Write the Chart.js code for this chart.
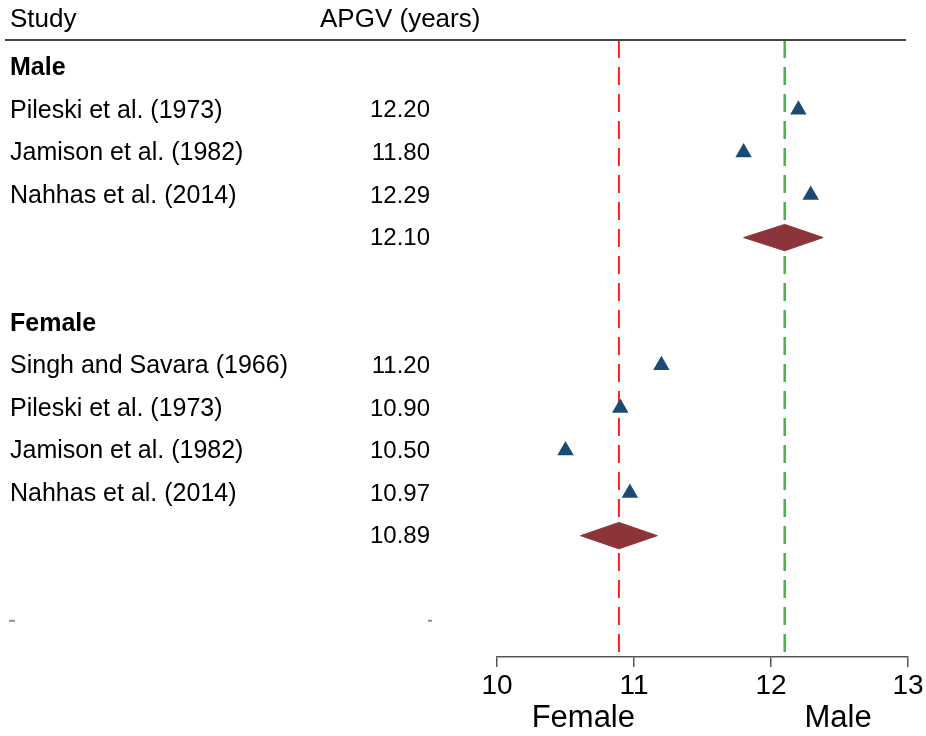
<!DOCTYPE html>
<html>
<head>
<meta charset="utf-8">
<script src="https://cdn.jsdelivr.net/npm/chart.js@4.4.0/dist/chart.umd.min.js"></script>
<style>
  body { margin: 0; background: #fff; }
  #wrap { width: 926px; height: 736px; position: relative; }
</style>
</head>
<body>
<div id="wrap"><canvas id="forest"></canvas></div>
<script>
// Data
const maleStudies = ['Pileski et al. (1973)', 'Jamison et al. (1982)', 'Nahhas et al. (2014)'];
const maleApgv = [12.20, 11.80, 12.29];
const malePooled = 12.10;
const maleCI = [11.80, 12.38];

const femaleStudies = ['Singh and Savara (1966)', 'Pileski et al. (1973)', 'Jamison et al. (1982)', 'Nahhas et al. (2014)'];
const femaleApgv = [11.20, 10.90, 10.50, 10.97];
const femalePooled = 10.89;
const femaleCI = [10.61, 11.17];

const xTicks = [10, 11, 12, 13];

// Row layout (row index on the y scale, 0 = top)
const maleHeaderRow = 0;
const maleRows = [1, 2, 3];
const malePooledRow = 4;
const femaleHeaderRow = 6;
const femaleRows = [7, 8, 9, 10];
const femalePooledRow = 11;

const FONT = '"Liberation Sans", Arial, sans-serif';
const DIAMOND_H = 0.31; // half-height of a pooled diamond, in rows

function diamond(est, ci, row) {
  return [
    { x: ci[0], y: row },
    { x: est, y: row - DIAMOND_H },
    { x: ci[1], y: row },
    { x: est, y: row + DIAMOND_H },
    { x: ci[0], y: row }
  ];
}

const studyPoints = maleApgv.map((v, i) => ({ x: v, y: maleRows[i] }))
  .concat(femaleApgv.map((v, i) => ({ x: v, y: femaleRows[i] })));

// Text columns drawn next to the plot
const tablePlugin = {
  id: 'table',
  afterDraw(chart) {
    const ctx = chart.ctx;
    const y = chart.scales.y;
    const x = chart.scales.x;
    const top = chart.chartArea.top;
    ctx.save();
    ctx.fillStyle = '#000';
    ctx.textBaseline = 'middle';

    // header
    ctx.font = '26px ' + FONT;
    ctx.textAlign = 'left';
    ctx.fillText('Study', 10, 20);
    ctx.fillText('APGV (years)', 320, 20);
    ctx.strokeStyle = '#444';
    ctx.lineWidth = 2;
    ctx.beginPath();
    ctx.moveTo(5, top);
    ctx.lineTo(906, top);
    ctx.stroke();

    const row = (label, r, val, bold) => {
      const py = y.getPixelForValue(r) + 1;
      ctx.font = (bold ? 'bold ' : '') + '25px ' + FONT;
      ctx.textAlign = 'left';
      if (label) ctx.fillText(label, 10, py);
      if (val != null) {
        ctx.font = '24px ' + FONT;
        ctx.textAlign = 'right';
        ctx.fillText(val.toFixed(2), 430, py);
      }
    };
    row('Male', maleHeaderRow, null, true);
    maleStudies.forEach((s, i) => row(s, maleRows[i], maleApgv[i]));
    row('', malePooledRow, malePooled);
    row('Female', femaleHeaderRow, null, true);
    femaleStudies.forEach((s, i) => row(s, femaleRows[i], femaleApgv[i]));
    row('', femalePooledRow, femalePooled);

    // faint leftover marks on the last row
    const yr = y.getPixelForValue(13);
    ctx.strokeStyle = '#8a8f9a';
    ctx.lineWidth = 2;
    ctx.beginPath();
    ctx.moveTo(9, yr); ctx.lineTo(15, yr);
    ctx.moveTo(428, yr); ctx.lineTo(432, yr);
    ctx.stroke();

    // group labels under the axis
    ctx.font = '31px ' + FONT;
    ctx.textAlign = 'center';
    ctx.fillText('Female', x.getPixelForValue(10.63), 718);
    ctx.fillText('Male', x.getPixelForValue(12.49), 718);
    ctx.restore();
  }
};

new Chart(document.getElementById('forest'), {
  type: 'scatter',
  data: {
    datasets: [
      {
        type: 'line',
        data: [{ x: femalePooled, y: -0.64 }, { x: femalePooled, y: 13.85 }],
        borderColor: '#ff2020',
        borderWidth: 2,
        borderDash: [18, 9],
        pointRadius: 0,
        order: 3
      },
      {
        type: 'line',
        data: [{ x: malePooled, y: -0.64 }, { x: malePooled, y: 13.85 }],
        borderColor: '#4caf50',
        borderWidth: 2.5,
        borderDash: [18, 9],
        pointRadius: 0,
        order: 3
      },
      {
        data: studyPoints,
        pointStyle: 'triangle',
        pointRadius: 9.5,
        pointHoverRadius: 9.5,
        backgroundColor: '#1b4a75',
        borderColor: '#1b4a75',
        borderWidth: 0,
        order: 1
      },
      {
        type: 'line',
        data: diamond(malePooled, maleCI, malePooledRow),
        borderColor: '#8b353b',
        backgroundColor: '#8b353b',
        borderWidth: 1,
        fill: 'shape',
        tension: 0,
        pointRadius: 0,
        order: 1
      },
      {
        type: 'line',
        data: diamond(femalePooled, femaleCI, femalePooledRow),
        borderColor: '#8b353b',
        backgroundColor: '#8b353b',
        borderWidth: 1,
        fill: 'shape',
        tension: 0,
        pointRadius: 0,
        order: 1
      }
    ]
  },
  options: {
    responsive: true,
    maintainAspectRatio: false,
    animation: false,
    layout: { padding: { left: 497, right: 18, top: 40, bottom: 0 } },
    plugins: { legend: { display: false }, tooltip: { enabled: false } },
    scales: {
      x: {
        type: 'linear',
        min: 10,
        max: 13,
        afterBuildTicks: (s) => { s.ticks = xTicks.map(v => ({ value: v })); },
        afterFit: (s) => { s.height = 79; },
        ticks: { color: '#000', font: { family: FONT, size: 28 }, padding: 2 },
        grid: { drawOnChartArea: false, drawTicks: true, tickLength: 10, color: '#555', lineWidth: 1.5 },
        border: { display: true, color: '#555', width: 1.5 }
      },
      y: {
        type: 'linear',
        display: false,
        reverse: true,
        min: -0.64,
        max: 13.85
      }
    }
  },
  plugins: [tablePlugin]
});
</script>
</body>
</html>
